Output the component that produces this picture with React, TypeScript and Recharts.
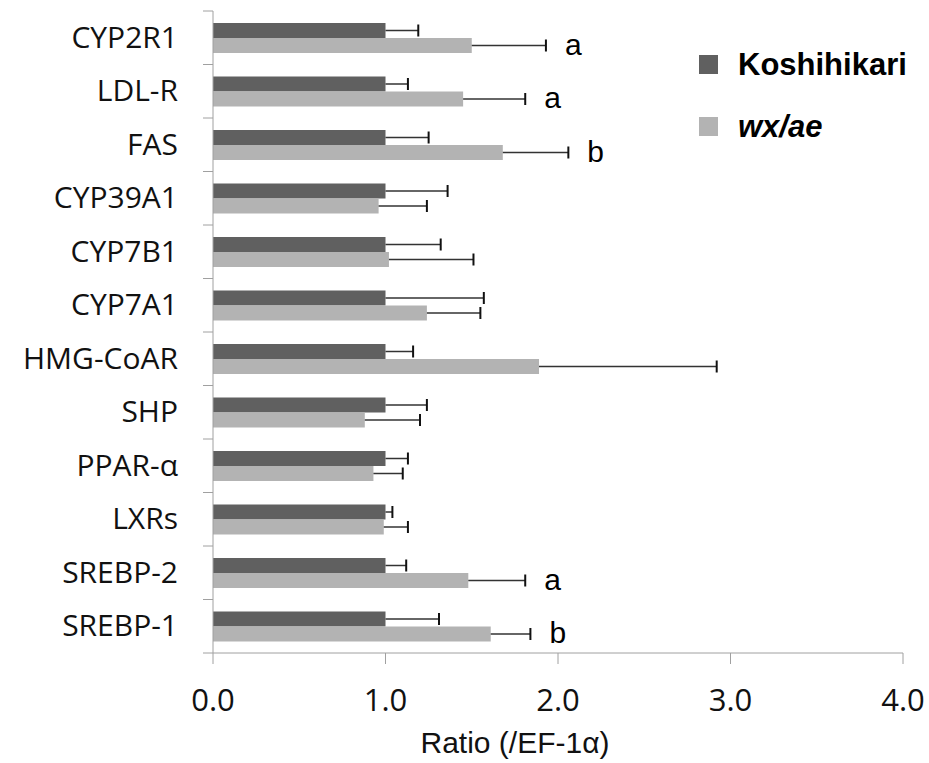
import { Bar, BarChart, Legend, XAxis, YAxis } from "recharts";

const genes = [
  "CYP2R1",
  "LDL-R",
  "FAS",
  "CYP39A1",
  "CYP7B1",
  "CYP7A1",
  "HMG-CoAR",
  "SHP",
  "PPAR-α",
  "LXRs",
  "SREBP-2",
  "SREBP-1",
];
const koshihikari = [1, 1, 1, 1, 1, 1, 1, 1, 1, 1, 1, 1];
const koshihikariSd = [0.19, 0.13, 0.25, 0.36, 0.32, 0.57, 0.16, 0.24, 0.13, 0.04, 0.12, 0.31];
const wxae = [1.5, 1.45, 1.68, 0.96, 1.02, 1.24, 1.89, 0.88, 0.93, 0.99, 1.48, 1.61];
const wxaeSd = [0.43, 0.36, 0.38, 0.28, 0.49, 0.31, 1.03, 0.32, 0.17, 0.14, 0.33, 0.23];
const letters = ["a", "a", "b", "", "", "", "", "", "", "", "a", "b"];
const xTicks = [0, 1, 2, 3, 4];

const data = genes.map((gene, i) => ({
  gene,
  k: koshihikari[i],
  kSd: koshihikariSd[i],
  w: wxae[i],
  wSd: wxaeSd[i],
  sig: letters[i],
}));

const W = 929;
const H = 763;
const AXIS_X = 213;
const PLOT_TOP = 11;
const PLOT_BOTTOM = 653;
const step = (PLOT_BOTTOM - PLOT_TOP) / genes.length;
const axisColor = "#a0a0a0";

function makeShape(valueKey: string, sdKey: string, showLetter: boolean) {
  return (props: any) => {
    const { x, y, width, height, fill, payload } = props;
    const v = payload[valueKey];
    const perUnit = width / v;
    const end = x + width;
    const errEnd = end + payload[sdKey] * perUnit;
    const cy = y + height / 2;
    return (
      <g>
        <rect x={x} y={y} width={width} height={height} fill={fill} />
        <line x1={end} y1={cy} x2={errEnd} y2={cy} stroke="#333" strokeWidth={1.5} />
        <line x1={errEnd} y1={cy - 6} x2={errEnd} y2={cy + 6} stroke="#111" strokeWidth={2} />
        {showLetter && payload.sig ? (
          <text
            x={errEnd + 19}
            y={cy + 9}
            fontSize={30}
            fontFamily='"Liberation Sans", Arial, sans-serif'
            fill="#000"
          >
            {payload.sig}
          </text>
        ) : null}
      </g>
    );
  };
}

function GeneTick(props: any) {
  const { x, y, payload, index } = props;
  return (
    <g>
      <text
        x={x}
        y={y}
        dy={10}
        textAnchor="end"
        fontSize={30}
        fontFamily='"Open Sans", sans-serif'
        fill="#111"
      >
        {payload.value}
      </text>
      <line x1={AXIS_X - 10} x2={AXIS_X} y1={y - step / 2} y2={y - step / 2} stroke={axisColor} />
      {index === genes.length - 1 ? (
        <line x1={AXIS_X - 10} x2={AXIS_X} y1={y + step / 2} y2={y + step / 2} stroke={axisColor} />
      ) : null}
    </g>
  );
}

function LegendContent({ payload }: any) {
  return (
    <div>
      {(payload || []).map((item: any) => (
        <div
          key={item.value}
          style={{ display: "flex", alignItems: "center", height: 31, marginBottom: 31 }}
        >
          <span style={{ width: 19, height: 19, background: item.color, display: "inline-block" }} />
          <span
            style={{
              marginLeft: 20,
              fontSize: 31,
              lineHeight: "31px",
              fontWeight: "bold",
              fontStyle: item.value === "wx/ae" ? "italic" : "normal",
              fontFamily: '"Liberation Sans", Arial, sans-serif',
              color: "#000",
            }}
          >
            {item.value}
          </span>
        </div>
      ))}
    </div>
  );
}

export default function App() {
  return (
    <div style={{ position: "absolute", left: 0, top: 0, background: "#fff" }}>
      <BarChart
        width={W}
        height={H}
        data={data}
        layout="vertical"
        margin={{ top: PLOT_TOP, right: W - 903, bottom: 0, left: 0 }}
        barSize={15}
        barGap={0}
      >
        <XAxis
          type="number"
          domain={[0, 4]}
          ticks={xTicks}
          tickFormatter={(v) => v.toFixed(1)}
          height={H - PLOT_BOTTOM}
          stroke={axisColor}
          tickSize={11}
          tickMargin={25}
          tick={{ fontSize: 31, fontFamily: '"Open Sans", sans-serif', fill: "#111" }}
          label={{
            content: () => (
              <text
                x={515}
                y={753}
                textAnchor="middle"
                fontSize={30}
                fontFamily='"Liberation Sans", Arial, sans-serif'
                fill="#111"
              >
                Ratio (/EF-1α)
              </text>
            ),
          }}
        />
        <YAxis
          type="category"
          dataKey="gene"
          width={AXIS_X}
          stroke={axisColor}
          tickLine={false}
          tickSize={10}
          tickMargin={25}
          interval={0}
          tick={<GeneTick />}
        />
        <Legend
          layout="vertical"
          align="center"
          verticalAlign="middle"
          wrapperStyle={{ left: 699, top: 49, width: 230 }}
          content={<LegendContent />}
        />
        <Bar
          dataKey="k"
          name="Koshihikari"
          fill="#606060"
          isAnimationActive={false}
          shape={makeShape("k", "kSd", false)}
        />
        <Bar
          dataKey="w"
          name="wx/ae"
          fill="#b3b3b3"
          isAnimationActive={false}
          shape={makeShape("w", "wSd", true)}
        />
      </BarChart>
    </div>
  );
}
